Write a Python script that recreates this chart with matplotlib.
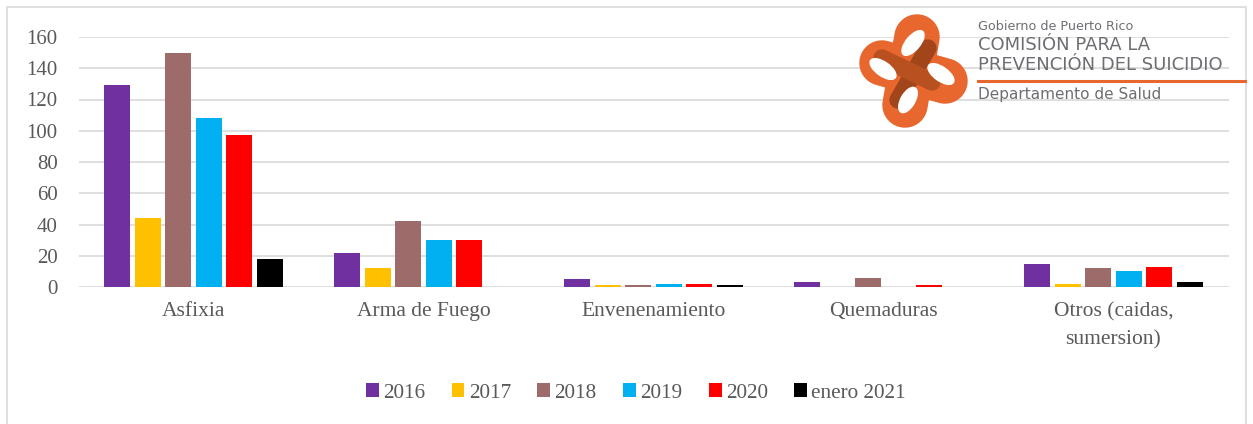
import matplotlib
matplotlib.use("Agg")
import matplotlib.pyplot as plt
import numpy as np
from matplotlib.patches import Rectangle, Patch, Ellipse, Polygon

categories = ["Asfixia", "Arma de Fuego", "Envenenamiento", "Quemaduras", "Otros (caidas,\nsumersion)"]
series_names = ["2016", "2017", "2018", "2019", "2020", "enero 2021"]
v2016 = [129, 22, 5, 3, 15]
v2017 = [44, 12, 1, 0, 2]
v2018 = [150, 42, 1, 6, 12]
v2019 = [108, 30, 2, 0, 10]
v2020 = [97, 30, 2, 1, 13]
v2021 = [18, 0, 1, 0, 3]
series_values = [v2016, v2017, v2018, v2019, v2020, v2021]
colors = ["#7030a0", "#ffc000", "#9e6b6b", "#00b0f0", "#ff0000", "#000000"]
yticks = [0, 20, 40, 60, 80, 100, 120, 140, 160]

W, H = 1253, 424
fig = plt.figure(figsize=(W / 100, H / 100), dpi=100)
fig.patch.set_facecolor("white")
txtc = "#595959"

# outer border
fig.patches.append(Rectangle((7 / W, -0.01), (1246 - 7) / W, (H - 7) / H + 0.01,
                             transform=fig.transFigure, fill=False,
                             edgecolor="#d9d9d9", linewidth=1.2))

ax = fig.add_axes([78.5 / W, (H - 287) / H, 1150 / W, 250 / H])
x = np.arange(len(categories))
bw = 0.113
pitch = 0.1326
n = len(series_names)
for i, (name, vals, c) in enumerate(zip(series_names, series_values, colors)):
    offs = (i - (n - 1) / 2) * pitch
    ax.bar(x + offs, vals, width=bw, color=c, label=name, zorder=3)

ax.set_xlim(-0.5, len(categories) - 0.5)
ax.set_ylim(0, 160)
ax.set_yticks(yticks)
ax.yaxis.grid(True, color="#d9d9d9", linewidth=1.2, zorder=0)
ax.set_axisbelow(True)
for s in ax.spines.values():
    s.set_visible(False)
ax.tick_params(axis="both", length=0, colors=txtc)
ax.tick_params(axis="y", pad=15, labelsize=15)
ax.tick_params(axis="x", pad=11, labelsize=15.5)
ax.set_xticks(x)
ax.set_xticklabels(categories, fontfamily="Liberation Serif", linespacing=1.6)
for t in ax.get_yticklabels():
    t.set_fontfamily("Liberation Serif")

handles = [Patch(facecolor=c, edgecolor="none") for c in colors]
fig.legend(handles, series_names, loc="center", bbox_to_anchor=(636 / W, (H - 393) / H),
           ncol=6, frameon=False, handlelength=0.6, handleheight=0.6,
           handletextpad=0.2, columnspacing=1.25,
           prop={"family": "Liberation Serif", "size": 15.3}, labelcolor=txtc)

# --- logo symbol (pixel coordinates) ---
lax = fig.add_axes([850 / W, (H - 135) / H, 125 / W, 125 / H])
lax.set_xlim(850, 975)
lax.set_ylim(135, 10)
lax.set_aspect("equal")
lax.axis("off")
orange = "#e8672f"
brown = "#a2451a"


def capsule(p1, p2, r, npts=40):
    p1 = np.array(p1, float)
    p2 = np.array(p2, float)
    d = p2 - p1
    ang = np.arctan2(d[1], d[0])
    a1 = np.linspace(ang + np.pi / 2, ang + 3 * np.pi / 2, npts)
    a2 = np.linspace(ang - np.pi / 2, ang + np.pi / 2, npts)
    pts1 = p1 + r * np.column_stack([np.cos(a1), np.sin(a1)])
    pts2 = p2 + r * np.column_stack([np.cos(a2), np.sin(a2)])
    return np.vstack([pts1, pts2])


lax.add_patch(Polygon(capsule((917, 37), (905, 105), 22), color=orange, zorder=1))
lax.add_patch(Polygon(capsule((882, 63), (945, 81), 22), color=orange, zorder=1))
lax.add_patch(Polygon(capsule((928, 48), (898, 100), 8, 10), color=brown, zorder=2))
lax.add_patch(Polygon(capsule((882, 58), (932, 82), 8, 10), color="#b8501f", zorder=3))
for (cx, cy, w, h, a) in [(913, 43, 30, 14, -50), (883, 69, 30, 14, 35),
                          (941, 74, 30, 14, 35), (908, 100, 28, 14, -60)]:
    lax.add_patch(Ellipse((cx, cy), w, h, angle=a, color="white", zorder=4))

grey = "#6d6e71"
fig.text(978 / W, (H - 27) / H, "Gobierno de Puerto Rico", fontsize=9.2, color=grey,
         family="DejaVu Sans", va="center", ha="left")
fig.text(978 / W, (H - 45) / H, "COMISIÓN PARA LA", fontsize=13, color=grey,
         family="DejaVu Sans", va="center", ha="left")
fig.text(978 / W, (H - 65) / H, "PREVENCIÓN DEL SUICIDIO", fontsize=13, color=grey,
         family="DejaVu Sans", va="center", ha="left")
fig.add_artist(plt.Line2D([978 / W, 1245 / W], [(H - 81) / H, (H - 81) / H],
                          color=orange, linewidth=2.2, transform=fig.transFigure))
fig.text(978 / W, (H - 95) / H, "Departamento de Salud", fontsize=11, color=grey,
         family="DejaVu Sans", va="center", ha="left")

fig.savefig("out.png", dpi=100)
